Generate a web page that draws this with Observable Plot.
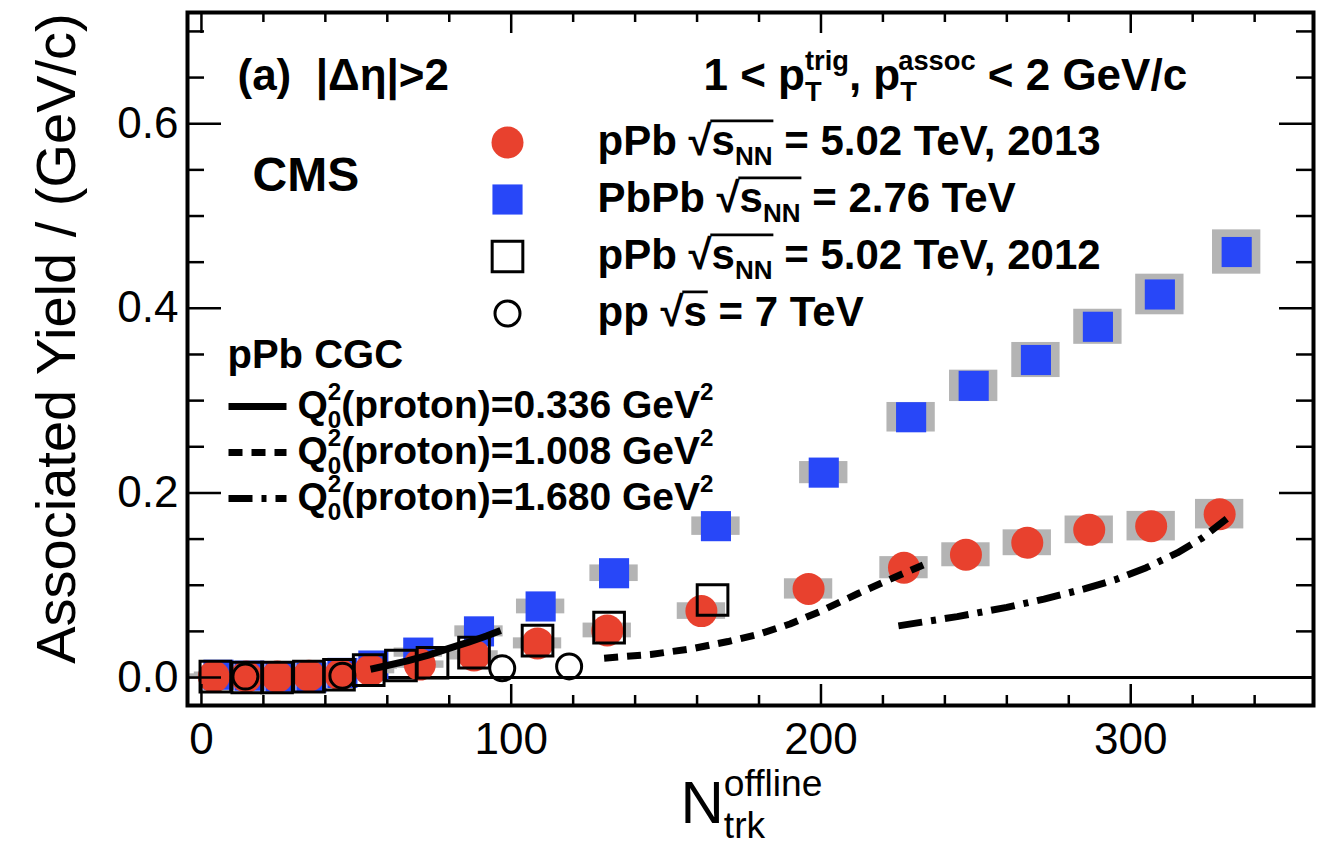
<!DOCTYPE html>
<html>
<head>
<meta charset="utf-8">
<script src="https://cdn.jsdelivr.net/npm/d3@7"></script>
<script src="https://cdn.jsdelivr.net/npm/@observablehq/plot@0.6"></script>
<style>
html, body { margin: 0; padding: 0; background: #fff; }
#chart svg { display: block; }
</style>
</head>
<body>
<div id="chart"></div>
<script>
// ---------------- data ----------------
// pPb sqrt(sNN)=5.02 TeV, 2013 (red filled circles)
const pPb2013X   = [4, 14.5, 24.5, 34.7, 44.8, 54.6, 70.5, 88, 108.5, 131, 161.4, 196, 226.8, 246.8, 266.6, 286.6, 306.6, 328.7];
const pPb2013Y   = [0.001, 0.001, 0.001, 0.002, 0.003, 0.008, 0.014, 0.024, 0.037, 0.051, 0.072, 0.096, 0.119, 0.133, 0.146, 0.160, 0.164, 0.177];
const pPb2013Sys = [0.003, 0.003, 0.003, 0.003, 0.003, 0.004, 0.004, 0.005, 0.006, 0.008, 0.009, 0.011, 0.012, 0.013, 0.014, 0.015, 0.016, 0.016];
// PbPb sqrt(sNN)=2.76 TeV (blue filled squares)
const PbPbX   = [5.5, 15.5, 25.5, 35.5, 45.5, 55.5, 70, 89.6, 109.5, 133.2, 166.1, 200.9, 229.1, 249.3, 269.4, 289.4, 309.4, 334.2];
const PbPbY   = [0.003, 0.002, 0.001, 0.000, 0.005, 0.013, 0.027, 0.050, 0.077, 0.113, 0.164, 0.222, 0.282, 0.316, 0.344, 0.380, 0.415, 0.461];
const PbPbSys = [0.003, 0.003, 0.003, 0.003, 0.003, 0.004, 0.005, 0.006, 0.008, 0.009, 0.010, 0.012, 0.016, 0.017, 0.019, 0.019, 0.022, 0.024];
// pPb sqrt(sNN)=5.02 TeV, 2012 (open squares)
const pPb2012X = [4.5, 14.8, 24.4, 34.7, 44.4, 54, 64.4, 74.6, 88, 108.5, 131.6, 165];
const pPb2012Y = [0.001, 0.000, 0.000, 0.001, 0.003, 0.008, 0.013, 0.016, 0.027, 0.040, 0.054, 0.084];
// pp sqrt(s)=7 TeV (open circles)
const ppX = [14.2, 45.5, 97.1, 118.7];
const ppY = [0.001, 0.002, 0.010, 0.012];
// pPb CGC curves
const cgc0336X = [54.6, 60, 66.5, 73, 79.4, 86, 92, 96.6];
const cgc0336Y = [0.009, 0.013, 0.018, 0.024, 0.031, 0.038, 0.045, 0.051];
const cgc1008X = [130, 145, 158, 170, 180, 190, 200, 212, 222, 233];
const cgc1008Y = [0.021, 0.025, 0.031, 0.039, 0.047, 0.058, 0.072, 0.091, 0.106, 0.122];
const cgc1680X = [225, 244, 260, 272, 285, 295, 305, 315, 323, 331];
const cgc1680Y = [0.056, 0.066, 0.076, 0.085, 0.096, 0.106, 0.119, 0.135, 0.151, 0.172];

// ticks and labels
const xLabelTicks = [0, 100, 200, 300];
const yLabelTicks = [0, 0.2, 0.4, 0.6];
const xMinorTicks = [20, 40, 60, 80, 120, 140, 160, 180, 220, 240, 260, 280, 320, 340];
const yMinorTicks = [0.05, 0.1, 0.15, 0.25, 0.3, 0.35, 0.45, 0.5, 0.55, 0.65, 0.7];

// texts
const legendLabels = [
  "pPb #sqrt{s_{NN}} = 5.02 TeV, 2013",
  "PbPb #sqrt{s_{NN}} = 2.76 TeV",
  "pPb #sqrt{s_{NN}} = 5.02 TeV, 2012",
  "pp #sqrt{s} = 7 TeV"
];
const cgcTitle = "pPb CGC";
const cgcLabels = [
  "Q_{0}^{2}(proton)=0.336 GeV^{2}",
  "Q_{0}^{2}(proton)=1.008 GeV^{2}",
  "Q_{0}^{2}(proton)=1.680 GeV^{2}"
];
const panelText = "(a)\u00a0 |\u0394\u03b7|>2";
const ptText = "1 < p_{T}^{trig}, p_{T}^{assoc} < 2 GeV/c";
const expText = "CMS";
const xTitle = "N_{trk}^{offline}";
const yTitle = "Associated Yield / (GeV/c)";

// ---------------- layout / style ----------------
const W = 1331, H = 847;
const M = {top: 12, right: 18, bottom: 142, left: 187};
const xDomain = [-4.5, 359];
const yDomain = [-0.0303, 0.7205];
const kX = (xDomain[1] - xDomain[0]) / (W - M.left - M.right);
const kY = (yDomain[1] - yDomain[0]) / (H - M.top - M.bottom);
const X = px => xDomain[0] + (px - M.left) * kX;
const Y = py => yDomain[1] - (py - M.top) * kY;

const RED = "#e8412e", BLUE = "#2847f8", GRAY = "#b4b4b4";
const sysHalf = 7.8;
const FONT = "'Liberation Sans', Arial, Helvetica, sans-serif";

const zip = (xs, ys, s) => xs.map((x, i) => ({x, y: ys[i], s: s ? s[i] : 0}));
const red = zip(pPb2013X, pPb2013Y, pPb2013Sys);
const blue = zip(PbPbX, PbPbY, PbPbSys);
const open2012 = zip(pPb2012X, pPb2012Y);
const pp = zip(ppX, ppY);
const c1 = zip(cgc0336X, cgc0336Y), c2 = zip(cgc1008X, cgc1008Y), c3 = zip(cgc1680X, cgc1680Y);

const sysRect = (rows) => Plot.rect(rows, {
  x1: d => d.x - sysHalf, x2: d => d.x + sysHalf,
  y1: d => d.y - d.s, y2: d => d.y + d.s, fill: GRAY
});

const dashes = [null, "14,9", "24,9,5,9"];

const legendMarkerY = [142, 199, 256, 313];
const legendTextY = [154, 211, 268, 325];
const cgcLineY = [406, 452, 498];
const cgcTextY = [417, 463, 509];

const marks = [
  Plot.ruleY([0], {stroke: "black", strokeWidth: 3}),
  sysRect(blue),
  Plot.dot(blue, {x: "x", y: "y", symbol: "square", r: 17, fill: BLUE}),
  sysRect(red),
  Plot.dot(red, {x: "x", y: "y", symbol: "circle", r: 16, fill: RED}),
  Plot.dot(open2012, {x: "x", y: "y", symbol: "square", r: 17.3, fill: "none", stroke: "black", strokeWidth: 3}),
  Plot.dot(pp, {x: "x", y: "y", symbol: "circle", r: 12.5, fill: "none", stroke: "black", strokeWidth: 3}),
  Plot.line(c1, {x: "x", y: "y", stroke: "black", strokeWidth: 7, strokeLinecap: "butt"}),
  Plot.line(c2, {x: "x", y: "y", stroke: "black", strokeWidth: 7, strokeLinecap: "butt", strokeDasharray: dashes[1]}),
  Plot.line(c3, {x: "x", y: "y", stroke: "black", strokeWidth: 7, strokeLinecap: "butt", strokeDasharray: dashes[2]}),
  // ticks (inward, ROOT style)
  Plot.ruleX(xLabelTicks, {y1: yDomain[0], y2: yDomain[0] + 21 * kY, strokeWidth: 2.5}),
  Plot.ruleX(xMinorTicks, {y1: yDomain[0], y2: yDomain[0] + 10 * kY, strokeWidth: 2.5}),
  Plot.ruleX(xLabelTicks, {y1: yDomain[1], y2: yDomain[1] - 21 * kY, strokeWidth: 2.5}),
  Plot.ruleX(xMinorTicks, {y1: yDomain[1], y2: yDomain[1] - 10 * kY, strokeWidth: 2.5}),
  Plot.ruleY(yLabelTicks, {x1: xDomain[0], x2: xDomain[0] + 34 * kX, strokeWidth: 2.5}),
  Plot.ruleY(yMinorTicks, {x1: xDomain[0], x2: xDomain[0] + 17 * kX, strokeWidth: 2.5}),
  Plot.ruleY(yLabelTicks, {x1: xDomain[1], x2: xDomain[1] - 34 * kX, strokeWidth: 2.5}),
  Plot.ruleY(yMinorTicks, {x1: xDomain[1], x2: xDomain[1] - 17 * kX, strokeWidth: 2.5}),
  Plot.frame({stroke: "black", strokeWidth: 4}),
  Plot.axisX(xLabelTicks, {tickSize: 0, tickPadding: 17, fontSize: 44, label: null, tickFormat: d => String(d)}),
  Plot.axisY(yLabelTicks, {tickSize: 0, tickPadding: 9, fontSize: 44, label: null, tickFormat: d => d.toFixed(1)}),
  // axis titles
  Plot.text([yTitle], {x: X(74), y: Y(338), text: d => d, rotate: -90, textAnchor: "middle", lineAnchor: "bottom", fontSize: 56}),
  Plot.text([xTitle], {x: X(680), y: Y(822), text: d => d, textAnchor: "start", lineAnchor: "bottom", fontSize: 60}),
  // header
  Plot.text([panelText], {x: X(237), y: Y(89), text: d => d, textAnchor: "start", lineAnchor: "bottom", fontSize: 44, fontWeight: "bold"}),
  Plot.text([ptText], {x: X(703), y: Y(89), text: d => d, textAnchor: "start", lineAnchor: "bottom", fontSize: 44, fontWeight: "bold"}),
  Plot.text([expText], {x: X(252), y: Y(190), text: d => d, textAnchor: "start", lineAnchor: "bottom", fontSize: 48, fontWeight: "bold"}),
  // data legend
  Plot.dot([0], {x: X(507), y: Y(legendMarkerY[0]), symbol: "circle", r: 16, fill: RED}),
  Plot.dot([0], {x: X(507), y: Y(legendMarkerY[1]), symbol: "square", r: 17, fill: BLUE}),
  Plot.dot([0], {x: X(507), y: Y(legendMarkerY[2]), symbol: "square", r: 17.3, fill: "none", stroke: "black", strokeWidth: 3}),
  Plot.dot([0], {x: X(507), y: Y(legendMarkerY[3]), symbol: "circle", r: 12.5, fill: "none", stroke: "black", strokeWidth: 3}),
  Plot.text(legendLabels, {x: X(597), y: (d, i) => Y(legendTextY[i]), text: d => d, textAnchor: "start", lineAnchor: "bottom", fontSize: 42, fontWeight: "bold"}),
  // CGC legend
  Plot.text([cgcTitle], {x: X(227), y: Y(367), text: d => d, textAnchor: "start", lineAnchor: "bottom", fontSize: 40, fontWeight: "bold"}),
  ...dashes.map((dash, i) => Plot.line([{x: X(228), y: Y(cgcLineY[i])}, {x: X(286), y: Y(cgcLineY[i])}], {
    x: "x", y: "y", stroke: "black", strokeWidth: 7, strokeLinecap: "butt", strokeDasharray: dash
  })),
  Plot.text(cgcLabels, {x: X(297), y: (d, i) => Y(cgcTextY[i]), text: d => d, textAnchor: "start", lineAnchor: "bottom", fontSize: 39, fontWeight: "bold"})
];

const plot = Plot.plot({
  width: W, height: H,
  marginTop: M.top, marginRight: M.right, marginBottom: M.bottom, marginLeft: M.left,
  x: {domain: xDomain},
  y: {domain: yDomain},
  style: {fontFamily: FONT, background: "#fff", color: "black", overflow: "visible"},
  marks
});
document.getElementById("chart").appendChild(plot);

// ---------------- ROOT-like TeX text (sub/superscripts, sqrt) ----------------
function matchBrace(s, open) {
  let d = 0;
  for (let j = open; j < s.length; j++) {
    if (s[j] === "{") d++;
    else if (s[j] === "}") { d--; if (d === 0) return j; }
  }
  return s.length;
}
function parseTex(s, over) {
  const runs = [];
  let i = 0, buf = "";
  const flush = () => { if (buf) { runs.push({t: buf, kind: "n", over}); buf = ""; } };
  while (i < s.length) {
    if (s.startsWith("#sqrt{", i)) {
      flush();
      const end = matchBrace(s, i + 5);
      runs.push({t: "\u221a", kind: "n", over: false, sqrt: true});
      runs.push(...parseTex(s.slice(i + 6, end), true));
      i = end + 1;
    } else if ((s[i] === "_" || s[i] === "^") && s[i + 1] === "{") {
      flush();
      const end = matchBrace(s, i + 1);
      runs.push({t: s.slice(i + 2, end), kind: s[i] === "_" ? "sub" : "sup", over});
      i = end + 1;
    } else { buf += s[i]; i++; }
  }
  flush();
  return runs;
}
const SVGNS = "http://www.w3.org/2000/svg";
function renderTex(el, str) {
  const fs = parseFloat(getComputedStyle(el).fontSize);
  const runs = parseTex(str, false);
  while (el.firstChild) el.removeChild(el.firstChild);
  let cur = 0, pend = 0, prev = null, idx = 0, sqrtIdx = -1, lastOver = -1;
  for (const r of runs) {
    const ts = document.createElementNS(SVGNS, "tspan");
    const shift = r.kind === "sub" ? 0.26 * fs : r.kind === "sup" ? -0.45 * fs : 0;
    ts.textContent = r.t;
    if (r.kind !== "n") ts.setAttribute("font-size", 0.62 * fs);
    if (shift !== cur) ts.setAttribute("dy", shift - cur);
    cur = shift;
    const stacked = prev && prev.kind !== "n" && r.kind !== "n" && prev.kind !== r.kind;
    const dx = stacked ? -prev.len : pend;
    pend = 0;
    if (dx) ts.setAttribute("dx", dx);
    el.appendChild(ts);
    const len = ts.getComputedTextLength();
    if (r.sqrt) sqrtIdx = idx;
    if (r.over) lastOver = idx + r.t.length - 1;
    idx += r.t.length;
    if (stacked) { pend = Math.max(0, prev.len - len); prev = null; }
    else prev = {kind: r.kind, len};
  }
  if (sqrtIdx >= 0 && lastOver > sqrtIdx) {
    const p0 = el.getStartPositionOfChar(sqrtIdx);
    const e0 = el.getEndPositionOfChar(sqrtIdx);
    const e1 = el.getEndPositionOfChar(lastOver);
    const ln = document.createElementNS(SVGNS, "line");
    const yTop = p0.y - 0.80 * fs;
    ln.setAttribute("x1", e0.x - 0.03 * fs);
    ln.setAttribute("x2", e1.x + 0.02 * fs);
    ln.setAttribute("y1", yTop);
    ln.setAttribute("y2", yTop);
    ln.setAttribute("stroke", "black");
    ln.setAttribute("stroke-width", 0.065 * fs);
    const tr = el.getAttribute("transform");
    if (tr) ln.setAttribute("transform", tr);
    el.parentNode.appendChild(ln);
  }
}
plot.querySelectorAll("text").forEach(t => {
  const s = t.textContent;
  if (/#sqrt\{|[_^]\{/.test(s)) renderTex(t, s);
});
</script>
</body>
</html>
